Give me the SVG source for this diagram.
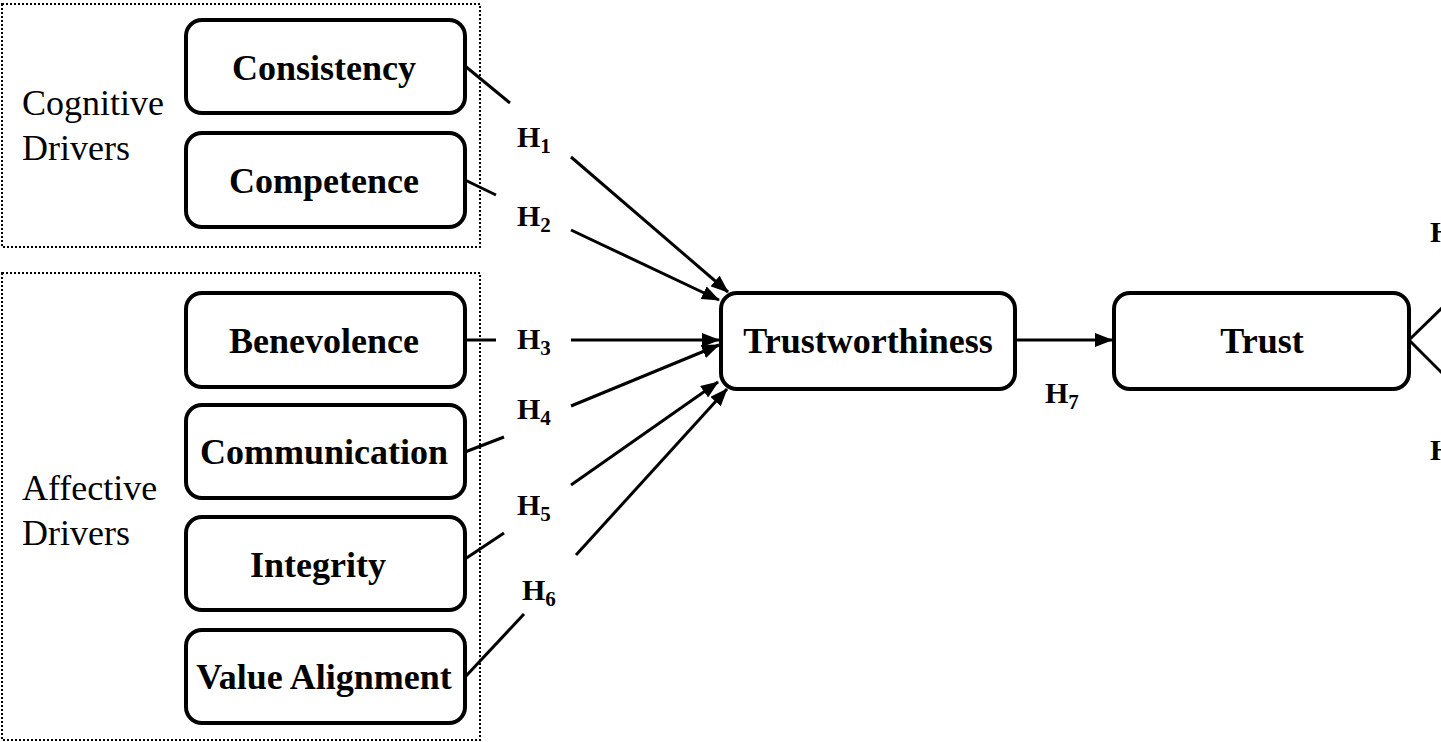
<svg xmlns="http://www.w3.org/2000/svg" width="1441" height="742" viewBox="0 0 1441 742">
<style>
.grp{fill:none;stroke:#000;stroke-width:2;stroke-dasharray:2 2}
.box{fill:#fff;stroke:#000;stroke-width:4}
.lbl{font-family:"Liberation Serif",serif;font-weight:bold;font-size:36px;text-anchor:middle;fill:#000}
.grpt{font-family:"Liberation Serif",serif;font-size:36px;fill:#000}
.h{font-family:"Liberation Serif",serif;font-weight:bold;font-size:30px;fill:#000}
.sub{font-size:21px}
.ln{stroke:#000;stroke-width:3;fill:none}
</style>
<defs>
<marker id="ah" markerUnits="userSpaceOnUse" markerWidth="18" markerHeight="14" refX="17" refY="7" orient="auto">
<path d="M0,0 L18,7 L0,14 Z" fill="#000"/>
</marker>
</defs>
<g id="cognitive-group">
<rect class="grp" x="2" y="4" width="478" height="243"/>
<text class="grpt" x="22" y="115">Cognitive</text>
<text class="grpt" x="22" y="160">Drivers</text>
</g>
<g id="affective-group">
<rect class="grp" x="2" y="273" width="478" height="467"/>
<text class="grpt" x="22" y="500">Affective</text>
<text class="grpt" x="22" y="545">Drivers</text>
</g>
<g id="connectors">
<line class="ln" x1="465" y1="66" x2="510" y2="103"/>
<line class="ln" x1="571" y1="157" x2="728" y2="292" marker-end="url(#ah)"/>
<line class="ln" x1="465" y1="180" x2="496" y2="195"/>
<line class="ln" x1="571" y1="230" x2="719" y2="300" marker-end="url(#ah)"/>
<line class="ln" x1="465" y1="340" x2="496" y2="340"/>
<line class="ln" x1="571" y1="340" x2="719" y2="340" marker-end="url(#ah)"/>
<line class="ln" x1="465" y1="452" x2="504" y2="437"/>
<line class="ln" x1="571" y1="406" x2="719" y2="345" marker-end="url(#ah)"/>
<line class="ln" x1="459" y1="563" x2="504" y2="533"/>
<line class="ln" x1="571" y1="485" x2="718" y2="382" marker-end="url(#ah)"/>
<line class="ln" x1="466" y1="676" x2="524" y2="614"/>
<line class="ln" x1="576" y1="555" x2="727" y2="389" marker-end="url(#ah)"/>
<line class="ln" x1="1016" y1="340" x2="1112" y2="340" marker-end="url(#ah)"/>
<line class="ln" x1="1409" y1="340" x2="1443" y2="307"/>
<line class="ln" x1="1409" y1="340" x2="1443" y2="374"/>
<text class="h" x="517" y="147">H<tspan class="sub" dy="6">1</tspan></text>
<text class="h" x="517" y="226">H<tspan class="sub" dy="6">2</tspan></text>
<text class="h" x="517" y="349">H<tspan class="sub" dy="6">3</tspan></text>
<text class="h" x="517" y="419">H<tspan class="sub" dy="6">4</tspan></text>
<text class="h" x="517" y="515">H<tspan class="sub" dy="6">5</tspan></text>
<text class="h" x="522" y="600">H<tspan class="sub" dy="6">6</tspan></text>
<text class="h" x="1045" y="403">H<tspan class="sub" dy="6">7</tspan></text>
<text class="h" x="1430" y="242">H</text>
<text class="h" x="1430" y="460">H</text>
</g>
<g id="consistency"><rect class="box" x="186" y="20" width="279" height="93" rx="16"/><text class="lbl" x="324" y="80">Consistency</text></g>
<g id="competence"><rect class="box" x="186" y="133" width="279" height="94" rx="16"/><text class="lbl" x="324" y="193">Competence</text></g>
<g id="benevolence"><rect class="box" x="186" y="293" width="279" height="94" rx="16"/><text class="lbl" x="324" y="353">Benevolence</text></g>
<g id="communication"><rect class="box" x="186" y="405" width="279" height="93" rx="16"/><text class="lbl" x="324" y="464">Communication</text></g>
<g id="integrity"><rect class="box" x="186" y="517" width="279" height="93" rx="16"/><text class="lbl" x="318" y="577">Integrity</text></g>
<g id="value-alignment"><rect class="box" x="186" y="630" width="279" height="93" rx="16"/><text class="lbl" x="324" y="689">Value Alignment</text></g>
<g id="trustworthiness"><rect class="box" x="721" y="293" width="294" height="96" rx="16"/><text class="lbl" x="868" y="353">Trustworthiness</text></g>
<g id="trust"><rect class="box" x="1114" y="293" width="295" height="96" rx="16"/><text class="lbl" x="1262" y="353">Trust</text></g>
</svg>
